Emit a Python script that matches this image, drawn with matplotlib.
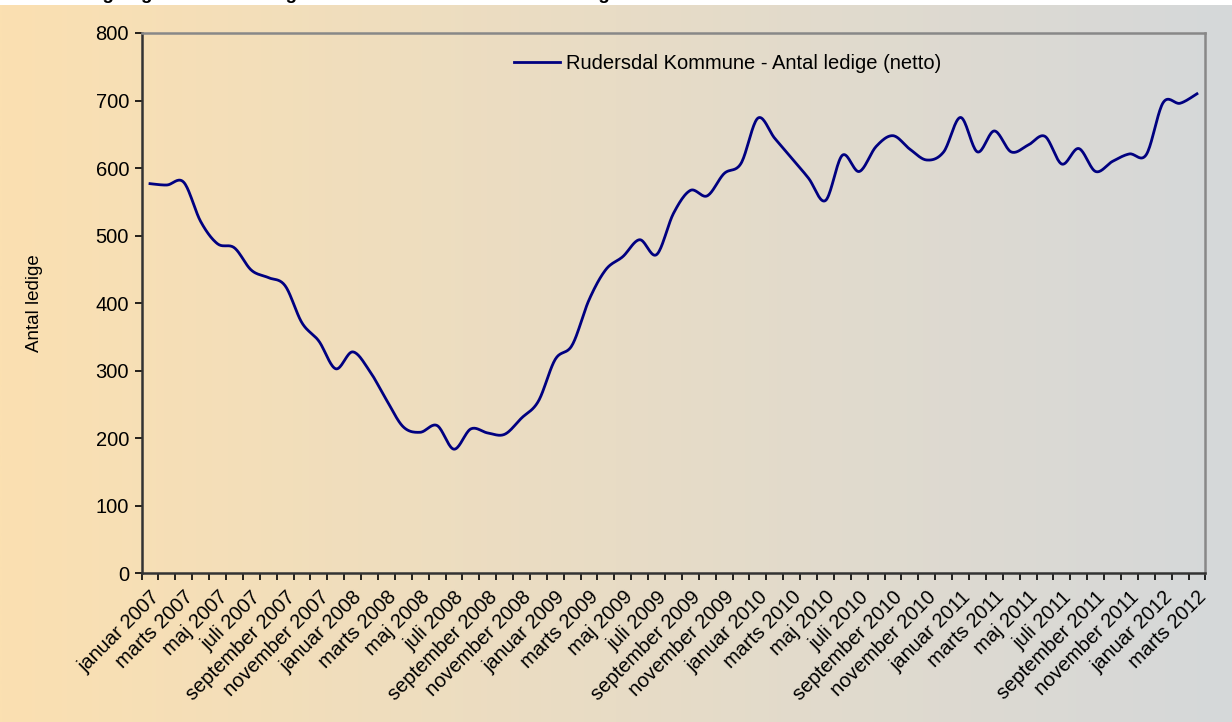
import numpy as np
import matplotlib
matplotlib.use("Agg")
import matplotlib.pyplot as plt

plt.rcParams['font.family'] = ['Liberation Sans', 'DejaVu Sans']

# månedlige værdier, januar 2007 - marts 2012
months = ["januar", "februar", "marts", "april", "maj", "juni", "juli",
          "august", "september", "oktober", "november", "december"]
years = [2007, 2008, 2009, 2010, 2011, 2012]
labels = [f"{m} {y}" for y in years for m in months][:63]

ledige = [577, 575, 579, 521, 488, 482, 449, 438, 426, 371, 344, 303,
          328, 300, 257, 217, 209, 219, 184, 214, 208, 206, 230, 255,
          317, 338, 405, 450, 469, 494, 472, 533, 567, 559, 592, 607,
          674, 644, 615, 585, 552, 619, 595, 632, 648, 628, 612, 624,
          675, 624, 655, 624, 634, 647, 606, 629, 595, 610, 621, 620,
          697, 696, 710]

series_name = "Rudersdal Kommune - Antal ledige (netto)"
title = "Ledige og forsikrede ledige i Rudersdal Kommune - udvikling 2007 til 2012 i alt efter måned"


def smooth(y, n=20):
    # bezier-udglatning a la Excel (catmull-rom)
    y = np.asarray(y, float)
    x = np.arange(len(y), dtype=float)
    px, py = [], []
    for i in range(len(y) - 1):
        i0, i3 = max(i - 1, 0), min(i + 2, len(y) - 1)
        c1x = x[i] + (x[i + 1] - x[i0]) / 6
        c1y = y[i] + (y[i + 1] - y[i0]) / 6
        c2x = x[i + 1] - (x[i3] - x[i]) / 6
        c2y = y[i + 1] - (y[i3] - y[i]) / 6
        t = np.linspace(0, 1, n, endpoint=False)
        a, b, c, d = (1 - t) ** 3, 3 * t * (1 - t) ** 2, 3 * t ** 2 * (1 - t), t ** 3
        px.append(a * x[i] + b * c1x + c * c2x + d * x[i + 1])
        py.append(a * y[i] + b * c1y + c * c2y + d * y[i + 1])
    px.append([x[-1]])
    py.append([y[-1]])
    return np.concatenate(px), np.concatenate(py)


W, H = 1232, 722
fig = plt.figure(figsize=(W / 100, H / 100), dpi=100, facecolor="white")

# baggrund med gradient (hvid stribe øverst)
bg = fig.add_axes([0, 0, 1, 1 - 5 / H], zorder=0)
left = np.array([251, 224, 177]) / 255
right = np.array([213, 216, 218]) / 255
t = np.linspace(0, 1, 256)[None, :, None]
grad = left[None, None, :] * (1 - t) + right[None, None, :] * t
bg.imshow(grad, aspect="auto", extent=[0, 1, 0, 1], interpolation="bilinear")
bg.set_xlim(0, 1)
bg.set_ylim(0, 1)
bg.axis("off")

# titlen er skåret af i toppen - kun underlængderne ses
fig.text(64 / W, 1 + 1.0 / H, title, fontsize=13.5, fontweight="bold",
         va="baseline", zorder=3)

ax = fig.add_axes([0.1149, 0.2057, 0.8635, 0.7486], zorder=1)
ax.patch.set_alpha(0)

xs, ys = smooth(ledige)
ax.plot(xs, ys, color="#000080", lw=2, label=series_name)

ax.set_xlim(-0.5, len(ledige) - 0.5)
ax.set_ylim(0, 800)
ax.set_yticks(range(0, 801, 100))
ax.tick_params(axis="y", labelsize=14.5, length=5, width=1.2, direction="out", pad=4)

ax.set_xticks(np.arange(-0.5, len(ledige), 1), minor=False)
ax.set_xticklabels([])
ax.set_xticks(np.arange(0, len(ledige), 2), minor=True)
ax.set_xticklabels(labels[::2], minor=True, rotation=45, ha="right",
                   rotation_mode="anchor", fontsize=14.5)
ax.tick_params(axis="x", which="major", length=5, width=1.2, direction="out")
ax.tick_params(axis="x", which="minor", length=0, pad=10)

for s in ["left", "bottom"]:
    ax.spines[s].set_color("#333333")
    ax.spines[s].set_linewidth(1.8)
for s in ["top", "right"]:
    ax.spines[s].set_color("#888888")
    ax.spines[s].set_linewidth(1.8)

ax.set_ylabel("Antal ledige", fontsize=13.5, labelpad=38)

ax.legend(loc="upper center", bbox_to_anchor=(0.551, 0.995), frameon=False,
          fontsize=14.5, handlelength=2.3, handletextpad=0.3)

fig.savefig("out.png", dpi=100, facecolor="white")
